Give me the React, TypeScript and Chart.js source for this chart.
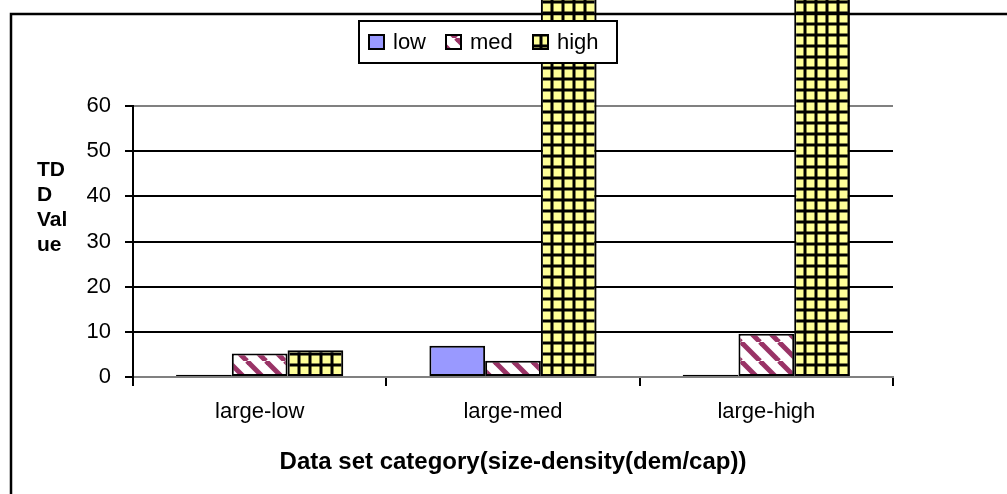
import React, { useEffect, useRef } from 'react';
import { Chart, registerables } from 'chart.js';

Chart.register(...registerables);

const categories = ['large-low', 'large-med', 'large-high'];
const seriesNames = ['low', 'med', 'high'];
const lowValues = [0.5, 6.9, 0.5];
const medValues = [5.2, 3.6, 9.6];
const highValues = [5.9, 130, 130];
const yMin = 0;
const yMax = 60;
const yStep = 10;
const yTitleLines = ['TD', 'D', 'Val', 'ue'];
const xTitle = 'Data set category(size-density(dem/cap))';

const FONT = 'Liberation Sans, Arial, sans-serif';

function makeStripe(): CanvasPattern | string {
  const P = 19;
  const c = document.createElement('canvas');
  c.width = P;
  c.height = P;
  const g = c.getContext('2d');
  if (!g) return '#993366';
  g.fillStyle = '#ffffff';
  g.fillRect(0, 0, P, P);
  g.strokeStyle = '#993366';
  g.lineWidth = 5;
  for (const o of [-P, 0, P]) {
    g.beginPath();
    g.moveTo(o, 0);
    g.lineTo(o + P, P);
    g.stroke();
  }
  return g.createPattern(c, 'repeat') || '#993366';
}

function makePlaid(): CanvasPattern | string {
  const P = 11;
  const c = document.createElement('canvas');
  c.width = P;
  c.height = P;
  const g = c.getContext('2d');
  if (!g) return '#FFFF99';
  g.fillStyle = '#FFFF99';
  g.fillRect(0, 0, P, P);
  g.fillStyle = 'rgba(0,0,0,0.5)';
  g.fillRect(0, 0, 4, P);
  g.fillRect(0, 0, P, 4);
  g.fillStyle = '#000000';
  g.fillRect(1, 0, 2, P);
  g.fillRect(0, 1, P, 2);
  return g.createPattern(c, 'repeat') || '#FFFF99';
}

export default function App() {
  const ref = useRef<HTMLCanvasElement>(null);

  useEffect(() => {
    const canvas = ref.current;
    if (!canvas) return;
    const stripe = makeStripe();
    const plaid = makePlaid();
    const fills = ['#9999FF', stripe, plaid];

    const decorPlugin = {
      id: 'decor',
      afterDraw(chart: any) {
        const ctx = chart.ctx as CanvasRenderingContext2D;
        ctx.save();
        // outer chart border (top and left visible)
        ctx.strokeStyle = '#000';
        ctx.lineWidth = 2.5;
        ctx.beginPath();
        ctx.moveTo(11, 494);
        ctx.lineTo(11, 14);
        ctx.lineTo(1007, 14);
        ctx.stroke();

        // y axis title (horizontal, wrapped)
        ctx.fillStyle = '#000';
        ctx.font = `bold 21px ${FONT}`;
        ctx.textAlign = 'left';
        ctx.textBaseline = 'middle';
        yTitleLines.forEach((t, i) => {
          ctx.fillText(t, 37, 170 + i * 25);
        });

        // legend
        const bx = 359, by = 21, bw = 258, bh = 42;
        ctx.fillStyle = '#fff';
        ctx.fillRect(bx, by, bw, bh);
        ctx.lineWidth = 2;
        ctx.strokeStyle = '#000';
        ctx.strokeRect(bx, by, bw, bh);
        const itemX = [369, 446, 533];
        ctx.font = `22px ${FONT}`;
        chart.data.datasets.forEach((ds: any, i: number) => {
          const x = itemX[i];
          ctx.fillStyle = ds.backgroundColor;
          ctx.fillRect(x, 35, 15, 14);
          ctx.strokeStyle = '#000';
          ctx.lineWidth = 2;
          ctx.strokeRect(x, 35, 15, 14);
          ctx.fillStyle = '#000';
          ctx.textAlign = 'left';
          ctx.textBaseline = 'middle';
          ctx.fillText(ds.label, x + 24, 43);
        });
        ctx.restore();
      },
    };

    const chart = new Chart(canvas, {
      type: 'bar',
      data: {
        labels: categories,
        datasets: [lowValues, medValues, highValues].map((vals, i) => ({
          label: seriesNames[i],
          data: vals,
          backgroundColor: fills[i] as any,
          borderColor: '#000',
          borderWidth: 2,
          borderSkipped: false,
          categoryPercentage: 0.66,
          barPercentage: 1,
          clip: false as any,
        })),
      },
      options: {
        responsive: false,
        animation: false,
        devicePixelRatio: 1,
        layout: { padding: { left: 0, top: 106, right: 114, bottom: 0 } },
        plugins: {
          legend: { display: false },
          tooltip: { enabled: false },
          title: { display: false },
        },
        scales: {
          x: {
            offset: true,
            afterFit(scale: any) {
              scale.height = 117;
            },
            border: { display: true, color: '#808080', width: 2 },
            grid: {
              offset: true,
              drawOnChartArea: true,
              color: (c: any) => (c.index === categories.length ? '#808080' : 'rgba(0,0,0,0)'),
              lineWidth: 2,
              tickColor: '#000',
              tickLength: 9,
              tickWidth: 2,
            },
            ticks: {
              color: '#000',
              font: { family: FONT, size: 22 },
              padding: 13,
              maxRotation: 0,
            },
            title: {
              display: true,
              text: xTitle,
              color: '#000',
              font: { family: FONT, size: 24, weight: 'bold' },
              padding: { top: 0, bottom: 17 },
            },
          },
          y: {
            min: yMin,
            max: yMax,
            afterFit(scale: any) {
              scale.width = 133;
            },
            border: { display: true, color: '#000', width: 2 },
            grid: {
              color: (c: any) => {
                const v = c.tick ? c.tick.value : 0;
                return v === yMin || v === yMax ? '#808080' : '#000';
              },
              lineWidth: 2,
              tickColor: '#000',
              tickLength: 8,
              tickWidth: 2,
            },
            ticks: {
              stepSize: yStep,
              color: '#000',
              font: { family: FONT, size: 22 },
              padding: 14,
            },
          },
        },
      },
      plugins: [decorPlugin],
    });

    return () => {
      chart.destroy();
    };
  }, []);

  return (
    <div style={{ position: 'fixed', left: 0, top: 0, width: 1007, height: 494, background: '#fff' }}>
      <canvas ref={ref} width={1007} height={494} style={{ display: 'block', width: 1007, height: 494 }} />
    </div>
  );
}
